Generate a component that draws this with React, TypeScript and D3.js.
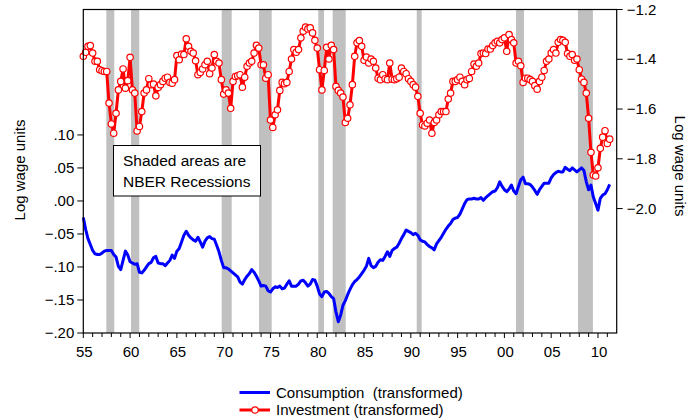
import React, { useEffect, useRef } from 'react';
import * as d3 from 'd3';

// quarterly series, first observation 1955Q1
const startYear = 1955;

const consumption = [
	-0.025, -0.043, -0.057, -0.066, -0.075, -0.080, -0.081, -0.081, -0.079, -0.076,
	-0.075, -0.075, -0.075, -0.081, -0.085, -0.099, -0.104, -0.090, -0.076, -0.082,
	-0.092, -0.094, -0.096, -0.095, -0.108, -0.109, -0.105, -0.100, -0.095, -0.093,
	-0.086, -0.084, -0.094, -0.095, -0.095, -0.098, -0.094, -0.090, -0.082, -0.087,
	-0.076, -0.072, -0.062, -0.052, -0.046, -0.052, -0.056, -0.059, -0.061, -0.055,
	-0.062, -0.070, -0.061, -0.056, -0.054, -0.057, -0.058, -0.067, -0.077, -0.090,
	-0.101, -0.101, -0.103, -0.106, -0.109, -0.112, -0.115, -0.123, -0.126, -0.119,
	-0.114, -0.110, -0.104, -0.108, -0.114, -0.121, -0.129, -0.128, -0.129, -0.136,
	-0.138, -0.133, -0.130, -0.131, -0.129, -0.133, -0.132, -0.126, -0.121, -0.129,
	-0.129, -0.129, -0.126, -0.121, -0.120, -0.124, -0.129, -0.126, -0.119, -0.120,
	-0.129, -0.141, -0.145, -0.138, -0.137, -0.140, -0.145, -0.148, -0.168, -0.183,
	-0.173, -0.158, -0.151, -0.142, -0.134, -0.127, -0.122, -0.119, -0.115, -0.110,
	-0.105, -0.099, -0.087, -0.098, -0.101, -0.099, -0.093, -0.089, -0.090, -0.084,
	-0.077, -0.084, -0.075, -0.072, -0.070, -0.064, -0.057, -0.051, -0.044, -0.046,
	-0.048, -0.051, -0.049, -0.052, -0.059, -0.061, -0.062, -0.066, -0.069, -0.071,
	-0.074, -0.065, -0.060, -0.055, -0.049, -0.043, -0.038, -0.034, -0.028, -0.026,
	-0.025, -0.020, -0.012, -0.004, 0.002, 0.003, 0.003, 0.004, 0.003, 0.003,
	0.005, 0.001, 0.005, 0.008, 0.011, 0.014, 0.015, 0.020, 0.029, 0.022,
	0.017, 0.014, 0.018, 0.024, 0.015, 0.011, 0.022, 0.032, 0.036, 0.026,
	0.026, 0.025, 0.021, 0.016, 0.010, 0.017, 0.022, 0.027, 0.027, 0.027,
	0.035, 0.040, 0.043, 0.045, 0.044, 0.044, 0.051, 0.048, 0.046, 0.050,
	0.047, 0.044, 0.047, 0.050, 0.046, 0.029, 0.017, 0.024, 0.006, -0.004,
	-0.014, 0.004, 0.009, 0.011, 0.017, 0.025
];

const investment = [
	-1.388, -1.372, -1.348, -1.345, -1.375, -1.408, -1.408, -1.442, -1.446, -1.449,
	-1.449, -1.576, -1.660, -1.697, -1.617, -1.523, -1.489, -1.439, -1.516, -1.486,
	-1.392, -1.523, -1.536, -1.688, -1.670, -1.610, -1.536, -1.523, -1.478, -1.502,
	-1.500, -1.547, -1.513, -1.502, -1.489, -1.476, -1.472, -1.493, -1.496, -1.482,
	-1.385, -1.402, -1.379, -1.381, -1.318, -1.348, -1.368, -1.375, -1.406, -1.462,
	-1.453, -1.439, -1.422, -1.408, -1.458, -1.435, -1.381, -1.408, -1.415, -1.482,
	-1.540, -1.523, -1.536, -1.597, -1.489, -1.469, -1.466, -1.462, -1.512, -1.472,
	-1.428, -1.415, -1.408, -1.375, -1.344, -1.355, -1.422, -1.422, -1.476, -1.462,
	-1.644, -1.674, -1.623, -1.603, -1.525, -1.493, -1.498, -1.493, -1.449, -1.399,
	-1.361, -1.372, -1.361, -1.314, -1.287, -1.271, -1.278, -1.274, -1.294, -1.324,
	-1.355, -1.442, -1.523, -1.445, -1.352, -1.399, -1.344, -1.361, -1.509, -1.525,
	-1.536, -1.552, -1.654, -1.637, -1.583, -1.502, -1.388, -1.334, -1.325, -1.348,
	-1.404, -1.391, -1.415, -1.399, -1.408, -1.435, -1.476, -1.482, -1.462, -1.478,
	-1.482, -1.415, -1.480, -1.482, -1.478, -1.472, -1.435, -1.449, -1.458, -1.478,
	-1.489, -1.502, -1.512, -1.549, -1.617, -1.664, -1.668, -1.657, -1.644, -1.697,
	-1.654, -1.644, -1.623, -1.610, -1.610, -1.610, -1.560, -1.536, -1.489, -1.489,
	-1.482, -1.472, -1.489, -1.502, -1.482, -1.477, -1.449, -1.419, -1.428, -1.415,
	-1.377, -1.375, -1.377, -1.359, -1.359, -1.345, -1.334, -1.328, -1.334, -1.321,
	-1.314, -1.368, -1.301, -1.321, -1.334, -1.415, -1.408, -1.426, -1.493, -1.476,
	-1.476, -1.482, -1.489, -1.506, -1.520, -1.489, -1.472, -1.445, -1.408, -1.399,
	-1.375, -1.361, -1.375, -1.332, -1.321, -1.324, -1.332, -1.377, -1.388, -1.381,
	-1.404, -1.399, -1.442, -1.480, -1.493, -1.536, -1.637, -1.774, -1.865, -1.869,
	-1.836, -1.758, -1.713, -1.687, -1.738, -1.721
];

// NBER recessions (shaded), in decimal years
const recessionStart = [1957.46, 1960.1, 1969.79, 1973.78, 1980.11, 1981.65, 1990.63, 2001.24, 2007.86];
const recessionEnd = [1958.31, 1960.98, 1970.86, 1975.13, 1980.72, 1983.04, 1991.16, 2002.09, 2009.46];

const leftTicks = [0.10, 0.05, 0.0, -0.05, -0.10, -0.15, -0.20];
const rightTicks = [-1.2, -1.4, -1.6, -1.8, -2.0];
const yearLabels = [1955, 1960, 1965, 1970, 1975, 1980, 1985, 1990, 1995, 2000, 2005, 2010];

const seriesNames = ['Consumption  (transformed)', 'Investment (transformed)'];

function App() {
	const ref = useRef<SVGSVGElement>(null);

	useEffect(() => {
		const w = 688;
		const h = 420;
		const left = 83.3;
		const right = 616.7;
		const top = 9.5;
		const bottom = 333;
		const font = '"Liberation Sans", Arial, sans-serif';
		const fs = '15px';

		const svg = d3.select(ref.current);
		svg.selectAll('*').remove();
		svg.attr('width', w).attr('height', h);

		const x = d3.scaleLinear().domain([1955, 2012]).range([left, right]);
		const yL = d3.scaleLinear().domain([-0.2, 0.29]).range([bottom, top]);
		const yR = d3.scaleLinear().domain([-2.5, -1.2]).range([bottom, top]);
		const dateOf = (i: number) => startYear + i / 4;

		// recession bands
		svg.append('g')
			.selectAll('rect')
			.data(recessionStart)
			.enter()
			.append('rect')
			.attr('x', d => x(d))
			.attr('y', top)
			.attr('width', (d, i) => x(recessionEnd[i]) - x(d))
			.attr('height', bottom - top)
			.attr('fill', '#c0c0c0');

		// consumption (left axis)
		const lineL = d3.line<number>()
			.x((d, i) => x(dateOf(i)))
			.y(d => yL(d));
		svg.append('path')
			.datum(consumption)
			.attr('d', lineL)
			.attr('fill', 'none')
			.attr('stroke', '#0000ff')
			.attr('stroke-width', 3)
			.attr('stroke-linejoin', 'round');

		// investment (right axis)
		const lineR = d3.line<number>()
			.x((d, i) => x(dateOf(i)))
			.y(d => yR(d));
		svg.append('path')
			.datum(investment)
			.attr('d', lineR)
			.attr('fill', 'none')
			.attr('stroke', '#ff0000')
			.attr('stroke-width', 3)
			.attr('stroke-linejoin', 'round');
		svg.append('g')
			.selectAll('circle')
			.data(investment)
			.enter()
			.append('circle')
			.attr('cx', (d, i) => x(dateOf(i)))
			.attr('cy', d => yR(d))
			.attr('r', 3.2)
			.attr('fill', 'white')
			.attr('stroke', '#ff0000')
			.attr('stroke-width', 1.2);

		// note box
		svg.append('rect')
			.attr('x', 113.5)
			.attr('y', 145.5)
			.attr('width', 147)
			.attr('height', 50.5)
			.attr('fill', 'white')
			.attr('stroke', 'black')
			.attr('stroke-width', 1);
		const note = svg.append('text')
			.attr('font-family', font)
			.attr('font-size', '15.5px')
			.attr('fill', 'black');
		note.append('tspan').attr('x', 123).attr('y', 166).text('Shaded areas are');
		note.append('tspan').attr('x', 123).attr('y', 187).text('NBER Recessions');

		// frame
		svg.append('rect')
			.attr('x', left)
			.attr('y', top)
			.attr('width', right - left)
			.attr('height', bottom - top)
			.attr('fill', 'none')
			.attr('stroke', 'black')
			.attr('stroke-width', 1.2);

		// bottom axis
		const years = d3.range(1955, 2012);
		svg.append('g')
			.selectAll('line')
			.data(years)
			.enter()
			.append('line')
			.attr('x1', d => x(d))
			.attr('x2', d => x(d))
			.attr('y1', bottom)
			.attr('y2', d => (d % 5 === 0 ? bottom + 5 : bottom + 4))
			.attr('stroke', 'black')
			.attr('stroke-width', 1);
		svg.append('g')
			.selectAll('text')
			.data(yearLabels)
			.enter()
			.append('text')
			.text(d => String(d % 100).padStart(2, '0'))
			.attr('x', d => x(d) + 1)
			.attr('y', 357)
			.attr('text-anchor', 'middle')
			.attr('font-family', font)
			.attr('font-size', fs);

		// left axis
		const fmtL = d3.format('.2f');
		const gl = svg.append('g');
		gl.selectAll('line')
			.data(leftTicks)
			.enter()
			.append('line')
			.attr('x1', left - 6)
			.attr('x2', left)
			.attr('y1', d => yL(d))
			.attr('y2', d => yL(d))
			.attr('stroke', 'black');
		gl.selectAll('text')
			.data(leftTicks)
			.enter()
			.append('text')
			.text(d => fmtL(d).replace('0.', '.'))
			.attr('x', left - 9)
			.attr('y', d => yL(d) + 5)
			.attr('text-anchor', 'end')
			.attr('font-family', font)
			.attr('font-size', fs);

		// right axis
		const fmtR = d3.format('.1f');
		const gr = svg.append('g');
		gr.selectAll('line')
			.data(rightTicks)
			.enter()
			.append('line')
			.attr('x1', right)
			.attr('x2', right + 6)
			.attr('y1', d => yR(d))
			.attr('y2', d => yR(d))
			.attr('stroke', 'black');
		gr.selectAll('text')
			.data(rightTicks)
			.enter()
			.append('text')
			.text(d => fmtR(d))
			.attr('x', right + 10)
			.attr('y', d => yR(d) + 5)
			.attr('font-family', font)
			.attr('font-size', fs);

		// axis titles
		svg.append('text')
			.text('Log wage units')
			.attr('transform', 'translate(25,170) rotate(-90)')
			.attr('text-anchor', 'middle')
			.attr('font-family', font)
			.attr('font-size', fs);
		svg.append('text')
			.text('Log wage units')
			.attr('transform', 'translate(675,166) rotate(90)')
			.attr('text-anchor', 'middle')
			.attr('font-family', font)
			.attr('font-size', fs);

		// legend
		const lg = svg.append('g');
		const rowY = [392.5, 410];
		const colors = ['#0000ff', '#ff0000'];
		seriesNames.forEach((name, i) => {
			lg.append('line')
				.attr('x1', 239.5)
				.attr('x2', 270)
				.attr('y1', rowY[i])
				.attr('y2', rowY[i])
				.attr('stroke', colors[i])
				.attr('stroke-width', 3);
			if (i === 1) {
				lg.append('circle')
					.attr('cx', 255)
					.attr('cy', rowY[i])
					.attr('r', 3.2)
					.attr('fill', 'white')
					.attr('stroke', colors[i])
					.attr('stroke-width', 1.2);
			}
			lg.append('text')
				.text(name)
				.attr('x', 276)
				.attr('y', rowY[i] + 5)
				.attr('font-family', font)
				.attr('font-size', fs)
				.style('white-space', 'pre');
		});
	}, []);

	return (
		<div style={{ position: 'absolute', left: 0, top: 0 }}>
			<svg ref={ref} />
		</div>
	);
}

export default App;
